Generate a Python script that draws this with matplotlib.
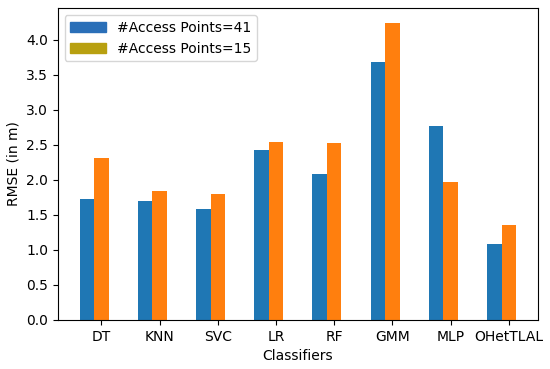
import numpy as np
from matplotlib import pyplot as plt
from matplotlib.patches import Patch

classifiers = ['DT', 'KNN', 'SVC', 'LR', 'RF', 'GMM', 'MLP', 'OHetTLAL']
rmse_41 = [1.73, 1.70, 1.58, 2.42, 2.09, 3.68, 2.77, 1.09]
rmse_15 = [2.31, 1.84, 1.80, 2.54, 2.52, 4.24, 1.97, 1.35]

width = 0.25
x = np.arange(len(classifiers))

fig, ax = plt.subplots(figsize=(5.5, 3.69), dpi=100)
ax.bar(x, rmse_41, width, color='#1f77b4')
ax.bar(x + width, rmse_15, width, color='#ff7f0e')
ax.set_xticks(x + width)
ax.set_xticklabels(classifiers)
ax.set_xlabel('Classifiers')
ax.set_ylabel('RMSE (in m)')

# legend patch colours as they appear in the figure
handles = [Patch(color='#2a6fb8', label='#Access Points=41'),
           Patch(color='#b8a010', label='#Access Points=15')]
ax.legend(handles=handles, loc='upper left', handlelength=2.6)

plt.subplots_adjust(left=0.105, right=0.978, top=0.978, bottom=0.133)
plt.savefig('out.png', dpi=100)
